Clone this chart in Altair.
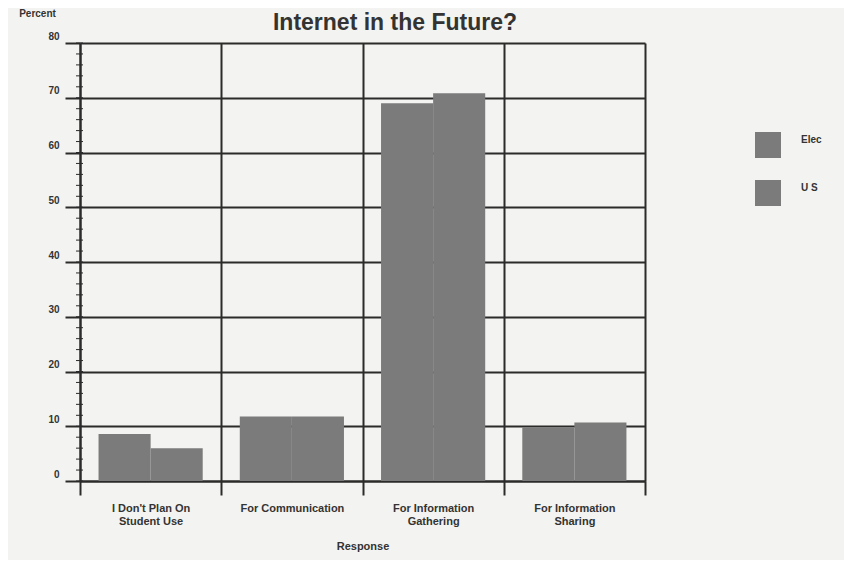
import altair as alt
import pandas as pd

# ---- data ----
categories = ["I Don't Plan On|Student Use", "For Communication",
              "For Information|Gathering", "For Information|Sharing"]
series = ["Elec", "U S"]
elec = [8.6, 11.8, 69.0, 9.8]
us = [6.0, 11.8, 70.8, 10.7]
y_ticks = [0, 10, 20, 30, 40, 50, 60, 70, 80]
minor_ticks = [0, 2, 4, 6, 8, 10, 12, 14, 16, 18, 20, 22, 24, 26, 28, 30, 32, 34,
               36, 38, 40, 42, 44, 46, 48, 50, 52, 54, 56, 58, 60, 62, 64, 66, 68,
               70, 72, 74, 76, 78, 80]
title_text = ["Internet in the Future?"]

rows = []
for c, e, u in zip(categories, elec, us):
    rows.append({"Response": c, "Series": series[0], "Percent": e})
    rows.append({"Response": c, "Series": series[1], "Percent": u})
df = pd.DataFrame(rows)
minor_df = pd.DataFrame({"Percent": minor_ticks})
title_df = pd.DataFrame({"t": title_text})

FONT = "Liberation Sans"
GRID = "#2b2b2b"
TXT = "#333333"
BAR = "#7b7b7b"
W, H = 565, 438

yscale = alt.Scale(domain=[0, 80], nice=False, zero=True)

bars = alt.Chart(df).mark_bar(strokeWidth=0).encode(
    x=alt.X("Response:N", sort=categories,
            scale=alt.Scale(paddingInner=0, paddingOuter=0),
            axis=alt.Axis(title="Response", labelExpr="split(datum.label, '|')",
                          labelAngle=0, tickBand="extent", grid=True,
                          gridColor=GRID, gridWidth=2, gridOpacity=1,
                          ticks=True, tickSize=14, tickColor=GRID, tickWidth=2,
                          domainColor=GRID, domainWidth=2,
                          labelPadding=7, labelFontSize=11, labelFontWeight="bold",
                          labelLineHeight=13, labelColor=TXT,
                          titleFontSize=11, titleFontWeight="bold",
                          titlePadding=14, titleColor=TXT)),
    xOffset=alt.XOffset("Series:N", sort=series,
                        scale=alt.Scale(paddingInner=0, paddingOuter=0.356)),
    y=alt.Y("Percent:Q", scale=yscale,
            axis=alt.Axis(values=y_ticks, title="Percent", titleAngle=0,
                          titleX=-43, titleY=-30, titleAlign="center",
                          titleBaseline="middle", titleFontSize=10,
                          titleFontWeight="bold", titleColor=TXT,
                          grid=True, gridColor=GRID, gridWidth=2, gridOpacity=1,
                          tickSize=15, tickWidth=2, tickColor=GRID,
                          domainColor=GRID, domainWidth=2,
                          labelFontSize=10, labelFontWeight="bold", labelColor=TXT,
                          labelPadding=6, labelBaseline="bottom", labelOffset=-2)),
    color=alt.Color("Series:N", sort=series,
                    scale=alt.Scale(domain=series, range=[BAR, BAR]),
                    legend=alt.Legend(title=None, orient="none", legendX=675,
                                      legendY=89, symbolType="square",
                                      symbolSize=676, symbolStrokeWidth=0,
                                      labelOffset=20, rowPadding=22,
                                      labelBaseline="bottom", labelFontSize=10,
                                      labelFontWeight="bold", labelColor=TXT,
                                      padding=0)),
)

minor = alt.Chart(minor_df).mark_rule(color=GRID, strokeWidth=1).encode(
    y=alt.Y("Percent:Q", scale=yscale),
    x=alt.value(-4),
    x2=alt.value(3),
)

title = alt.Chart(title_df).mark_text(
    font=FONT, fontSize=23, fontWeight="bold", align="center",
    baseline="alphabetic", color=TXT,
).encode(text="t:N", x=alt.value(315), y=alt.value(-13))

chart = alt.layer(bars, minor, title).properties(
    width=W, height=H,
    autosize=alt.AutoSizeParams(type="none"),
    padding={"left": 72, "top": 35, "right": 199, "bottom": 79},
    background="#f3f3f1",
).configure(font=FONT).configure_view(stroke=None)

chart.save("out.html", embed_options={"renderer": "svg", "actions": False})
